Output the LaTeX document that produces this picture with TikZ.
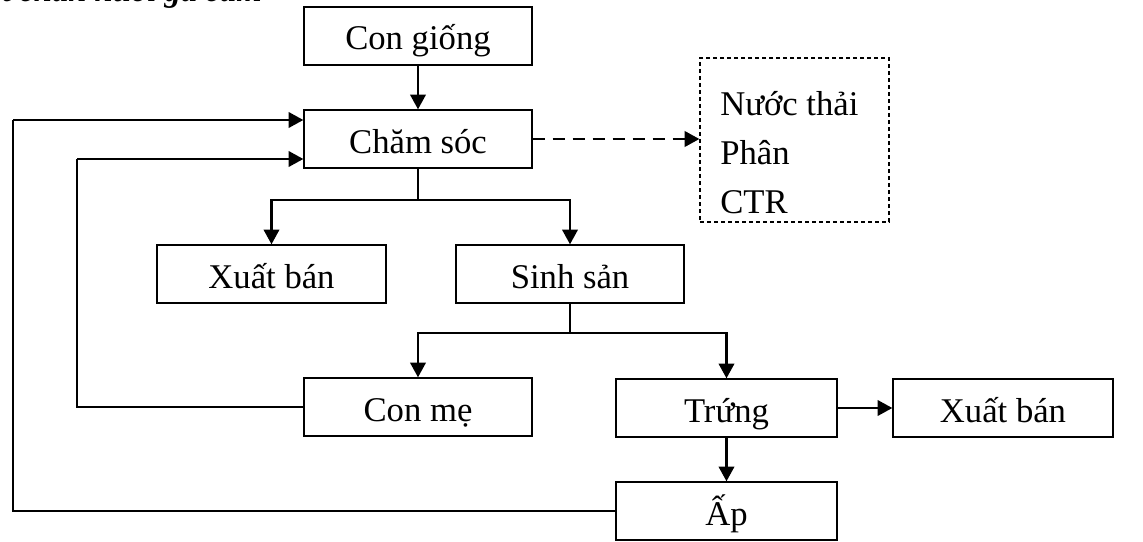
\documentclass[tikz,border=0pt]{standalone}
\usepackage{fontspec}
\setmainfont{Liberation Serif}
\usetikzlibrary{arrows.meta}
\begin{document}
\begin{tikzpicture}[x=0.75pt,y=-0.75pt,
  font=\fontsize{26}{36.75}\selectfont,
  box/.style={draw,line width=1pt,minimum width=#1*0.75pt,minimum height=43.5pt,inner sep=0pt,text height=21pt,text depth=0pt},
  thinline/.style={line width=1pt},
  conn/.style={line width=1.9pt,-{Triangle[length=11pt,width=11.5pt]}},
]
\useasboundingbox (0,0) rectangle (1143,542);

% heading line, its upper part above the page edge
\node[anchor=base east,inner sep=0pt,font=\fontsize{24.5}{30}\selectfont\bfseries\itshape] (title) at (262,2) {t chăn nuôi gà cảm};

% process boxes
\node[box=228] (giong)   at (418,36)    {Con giống};
\node[box=228] (chamsoc) at (418,139)   {Chăm sóc};
\node[box=229] (xb1)     at (271.5,274) {Xuất bán};
\node[box=228] (sinhsan) at (570,274)   {Sinh sản};
\node[box=228] (conme)   at (418,407)   {Con mẹ};
\node[box=221] (trung)   at (726.5,408) {Trứng};
\node[box=220] (xb2)     at (1003,408)  {Xuất bán};
\node[box=221] (ap)      at (726.5,511) {Ấp};

% waste outputs
\node[draw,dash pattern=on 3pt off 2.25pt,line width=0.9pt,minimum width=141.75pt,minimum height=123pt,inner sep=0pt] (waste) at (794.5,140) {};
\node[anchor=base west,align=left,inner sep=0pt] (wastetext) at (720,213) {Nước thải\\Phân\\CTR};

% branching points and loop corners
\coordinate (split1) at (418,200);
\coordinate (split2) at (570,333);
\coordinate (loopA) at (13,120);
\coordinate (loopB) at (77,159);

% main flow
\draw[conn] (giong) -- (chamsoc);
\draw[conn,dash pattern=on 9.5pt off 5.5pt] (chamsoc.east) -- (waste.west |- chamsoc.east);
\draw[thinline] (chamsoc.south) -- (split1);
\draw[conn] (split1) -| (xb1.north);
\draw[conn] (split1) -| (sinhsan.north);
\draw[thinline] (sinhsan.south) -- (split2);
\draw[conn] (split2) -| (conme.north);
\draw[conn] (split2) -| (trung.north);
\draw[conn] (trung) -- (xb2);
\draw[conn] (trung) -- (ap);

% feedback loops into care
\draw[thinline] (ap.west) -| (loopA);
\draw[conn] (loopA) -- (loopA -| chamsoc.west);
\draw[thinline] (conme.west) -| (loopB);
\draw[conn] (loopB) -- (loopB -| chamsoc.west);
\end{tikzpicture}
\end{document}
